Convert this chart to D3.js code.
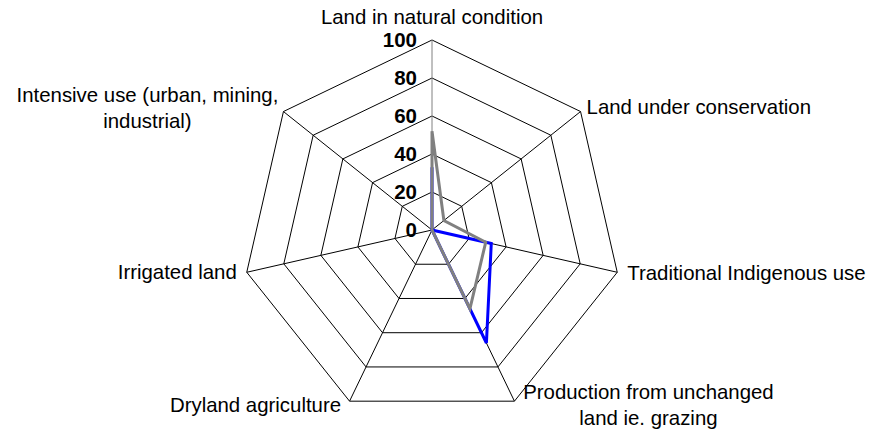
<!DOCTYPE html>
<html>
<head>
<meta charset="utf-8">
<script src="https://cdn.jsdelivr.net/npm/d3@7"></script>
<style>
  body { margin: 0; background: #fff; }
  svg { display: block; font-family: "Liberation Sans", Arial, sans-serif; }
</style>
</head>
<body>
<div id="chart"></div>
<script>
var categories = [
  "Land in natural condition",
  "Land under conservation",
  "Traditional Indigenous use",
  "Production from unchanged land ie. grazing",
  "Dryland agriculture",
  "Irrigated land",
  "Intensive use (urban, mining, industrial)"
];
var blueSeries = [33, 0, 32, 66, 0, 0, 0];
var greySeries = [52, 8, 29, 46, 0, 0, 0];
var tickValues = [0, 20, 40, 60, 80, 100];

// label layout: anchor, dx/dy from the outer vertex, wrapped lines
var labelLayout = [
  { anchor: "middle", dx: 0, dy: -16, lines: ["Land in natural condition"] },
  { anchor: "start", dx: 6, dy: 2.5, lines: ["Land under conservation"] },
  { anchor: "start", dx: 10, dy: 8, lines: ["Traditional Indigenous use"] },
  { anchor: "middle", dx: 134, dy: -2, lines: ["Production from unchanged", "land ie. grazing"] },
  { anchor: "end", dx: -8.5, dy: 11, lines: ["Dryland agriculture"] },
  { anchor: "end", dx: -10, dy: 7, lines: ["Irrigated land"] },
  { anchor: "middle", dx: -136, dy: -10, lines: ["Intensive use (urban, mining,", "industrial)"] }
];

var width = 884, height = 431;
var cx = 432, cy = 230, R = 190;

var svg = d3.select("#chart")
  .append("svg")
  .attr("width", width)
  .attr("height", height);

var g = svg.append("g").attr("transform", "translate(" + cx + "," + cy + ")");

var r = d3.scaleLinear().domain([0, 100]).range([0, R]);
var angle = d3.scaleLinear()
  .domain([0, categories.length])
  .range([0, 2 * Math.PI]);

function pt(i, v) {
  var a = angle(i);
  return [Math.sin(a) * r(v), -Math.cos(a) * r(v)];
}

// grid polygons
tickValues.filter(function (t) { return t > 0; }).forEach(function (t) {
  g.append("path")
    .attr("d", d3.line()(categories.map(function (c, i) { return pt(i, t); })) + "Z")
    .attr("fill", "none")
    .attr("stroke", "#000")
    .attr("stroke-width", 1);
});

// spokes (value axis drawn grey)
categories.forEach(function (c, i) {
  var p = pt(i, 100);
  g.append("line")
    .attr("x1", 0).attr("y1", 0)
    .attr("x2", p[0]).attr("y2", p[1])
    .attr("stroke", i === 0 ? "#808080" : "#000")
    .attr("stroke-width", 1);
});

// series
var radial = d3.lineRadial()
  .angle(function (d, i) { return angle(i); })
  .radius(function (d) { return r(d); })
  .curve(d3.curveLinearClosed);

g.append("path")
  .datum(blueSeries)
  .attr("d", radial)
  .attr("fill", "none")
  .attr("stroke", "#0000ff")
  .attr("stroke-width", 3)
  .attr("stroke-linejoin", "miter");

g.append("path")
  .datum(greySeries)
  .attr("d", radial)
  .attr("fill", "none")
  .attr("stroke", "#808080")
  .attr("stroke-width", 3)
  .attr("stroke-linejoin", "miter");

// tick labels
g.selectAll(".tick")
  .data(tickValues)
  .enter()
  .append("text")
  .attr("class", "tick")
  .attr("x", -15)
  .attr("y", function (d) { return -r(d) + 2; })
  .attr("text-anchor", "end")
  .attr("dominant-baseline", "middle")
  .attr("font-size", "20.5px")
  .attr("font-weight", "bold")
  .attr("fill", "#000")
  .text(function (d) { return d; });

// category labels
categories.forEach(function (c, i) {
  var p = pt(i, 100);
  var L = labelLayout[i];
  var t = g.append("text")
    .attr("text-anchor", L.anchor)
    .attr("font-size", "20.4px")
    .attr("fill", "#000");
  L.lines.forEach(function (line, k) {
    t.append("tspan")
      .attr("x", p[0] + L.dx)
      .attr("y", p[1] + L.dy + k * 26)
      .text(line);
  });
});
</script>
</body>
</html>
